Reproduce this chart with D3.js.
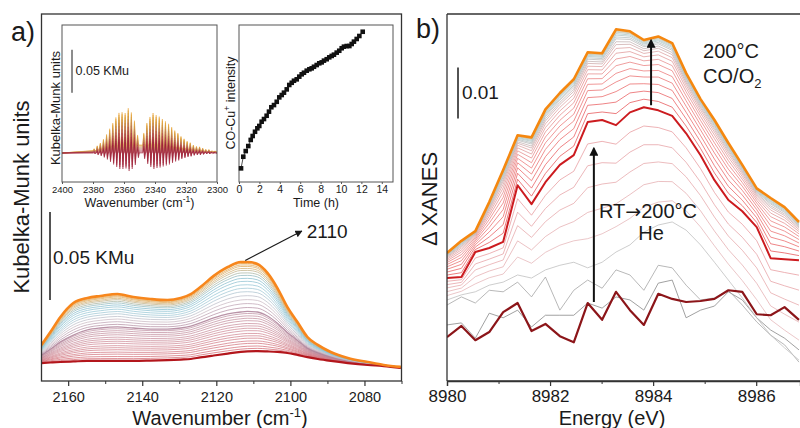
<!DOCTYPE html>
<html><head><meta charset="utf-8">
<script src="https://cdn.jsdelivr.net/npm/d3@7/dist/d3.min.js"></script>
<style>
body{margin:0;background:#fff}
svg text{font-family:"Liberation Sans",Arial,Helvetica,sans-serif;fill:#1a1a1a}
</style>
</head><body>
<svg id="c" width="800" height="428"></svg>
<script>
// ================= DATA =================
// Panel a: DRIFTS spectra (values in 1e-3 KMu)
const irWn = [2167.2,2164.8,2162.1,2158.6,2154.8,2151.3,2146.7,2142.4,2137.8,2133.2,2129.6,2126.9,2124.3,2120.7,2116.9,2113.4,2111.6,2108.9,2106.2,2103.5,2100.8,2098.1,2095.4,2092.6,2089.1,2084.5,2079.1,2074.8,2070.2];
const irTop    = [20.5,27.8,36.4,44.3,47.2,48.3,49.4,47.7,46.6,46.0,47.2,49.4,53.4,59.7,64.8,67.6,67.6,66.5,61.4,52.8,42.0,33.5,25.0,20.5,16.5,13.1,10.8,9.1,8.0];
const irMid    = [14.8,18.2,22.2,26.1,29.0,30.1,30.7,30.1,29.5,29.5,30.1,31.2,33.0,35.8,38.1,39.2,39.5,39.2,36.9,32.8,27.6,23.2,18.7,16.1,13.7,11.5,9.9,8.8,7.7];
const irBottom = [10.2,10.5,10.8,11.1,11.4,11.4,11.4,11.4,11.6,11.9,12.2,12.5,13.4,14.5,15.6,16.5,16.8,17.0,16.8,16.5,15.9,14.8,13.6,12.5,11.4,10.2,9.1,8.5,7.4];
// relative positions of the intermediate spectra
const irLowerLevels = [0.07,0.13,0.2,0.26,0.33,0.39,0.45,0.52,0.58,0.64,0.7,0.77,0.83,0.89,0.95];
const irUpperLevels = [0.0,0.08,0.16,0.24,0.32,0.4,0.47,0.54,0.61,0.67,0.73,0.78,0.83,0.87,0.91,0.94,0.97];
const irTicks = [2160,2140,2120,2100,2080];
const irMinorTicks = [2150,2130,2110,2090,2070];

// Inset 1: gas-phase CO2 lines (line positions, cm-1; heights 1e-3 KMu)
const co2RLines = [2379,2377,2375,2373,2371,2369,2367,2365,2363,2361,2359,2357,2355,2353,2351];
const co2RHeights = [2.3,4.7,7,10.5,15.1,20.9,26.7,32.6,37.2,37.2,36,41.9,37.2,27.9,11.6];
const co2PLines = [2347,2345,2343,2341,2339,2337,2335,2333,2331,2329,2327,2325,2323,2321,2319,2317,2315,2313,2311,2309,2307,2305,2303,2301];
const co2PHeights = [14,25.6,32.6,37.2,34.9,33.7,31.4,29.1,26.7,23.3,19.8,17.4,14,11.6,9.3,8.1,5.8,4.7,4.7,3.5,2.3,2.3,1.2,1.2];
const co2BroadWn = [2400,2380,2370,2360,2350,2340,2330,2320,2310,2300];
const co2Broad = [0,2.3,7,10.5,9.3,9.3,7,4.7,2.3,1.2];
const co2Stages = [1,0.93,0.85,0.76,0.66,0.55,0.42,0.3,0.17,0.08,0];
const inset1Ticks = [2400,2380,2360,2340,2320,2300];

// Inset 2: CO-Cu+ intensity vs time
const timeH = [0.2,0.42,0.66,0.91,1.15,1.34,1.57,1.8,1.99,2.22,2.45,2.71,2.94,3.17,3.43,3.7,3.95,4.19,4.41,4.68,4.93,5.17,5.39,5.66,5.91,6.15,6.37,6.64,6.9,7.13,7.35,7.62,7.87,8.11,8.33,8.6,8.85,9.09,9.31,9.58,9.83,10.07,10.29,10.56,10.82,11.05,11.27,11.54,11.8,12.13];
const coCuInt = [8.7,16.1,19.7,22.9,26.8,29.3,32.0,34.2,35.7,38.4,40.1,42.2,44.8,47.6,49.0,51.1,53.9,55.4,56.9,59.0,61.8,63.2,64.5,65.4,67.1,68.6,69.6,70.9,71.8,72.4,73.4,74.5,75.6,76.2,77.3,78.2,79.4,80.3,81.1,82.4,83.6,85.2,86.2,86.6,86.6,87.9,89.4,91.1,93.0,95.7];
const timeTicks = [0,2,4,6,8,10,12,14];

// Panel b: XANES difference spectra (values in 1e-3)
const energy = [8980.0,8980.28,8980.55,8980.82,8981.09,8981.37,8981.64,8981.91,8982.19,8982.46,8982.73,8983.01,8983.28,8983.55,8983.82,8984.10,8984.37,8984.64,8984.92,8985.19,8985.46,8985.73,8986.01,8986.28,8986.55,8986.83];
const xanesRT    = [8.6,10.8,8.0,9.6,13.5,15.3,9.8,11.2,8.8,7.6,15.3,12.0,17.5,13.9,11.0,17.1,16.1,15.5,15.7,16.1,17.8,17.5,13.1,12.9,14.5,12.0];
const xanesHe1   = [11.0,11.4,8.4,13.3,12.4,13.9,10.6,12.9,12.9,12.9,15.3,14.3,16.5,15.9,13.9,19.2,19.8,12.4,13.9,14.7,17.5,15.9,12.4,10.0,8.4,6.1];
const xanesHe2   = [14.9,16.5,15.3,17.8,17.5,19.4,16.5,20.4,13.9,17.8,19.8,18.2,21.8,20.8,17.8,22.7,22.2,18.8,15.9,16.3,17.8,14.9,11.6,9.0,7.1,3.7];
const xanesHe3   = [15.9,16.9,17.5,18.8,19.4,20.8,20.2,21.8,22.7,23.3,22.2,23.3,25.3,26.7,29.2,30.6,31.2,29.6,26.7,23.3,19.8,16.3,12.4,9.0,6.5,4.1];
const xanes200He = [20.2,20.4,25.3,26.1,27.3,38.4,34.7,39.0,42.4,44.3,50.8,51.2,50.2,52.7,53.7,53.1,52.0,48.6,44.3,39.4,35.5,33.3,30.2,24.1,23.9,23.7];
const xanesCOO2  = [25.1,27.5,29.4,35.1,41.4,48.2,47.8,53.3,56.5,59.2,64.5,64.3,69.0,68.6,66.9,67.6,66.3,60.4,55.3,51.2,46.7,42.4,37.8,35.9,34.1,31.2];
const heLevels = [0.2,0.38,0.55,0.7,0.85];
const coLevels = [0.12,0.24,0.35,0.45,0.54,0.62,0.69,0.75,0.8,0.84,0.87,0.9,0.92,0.94,0.955,0.97,0.98,0.99];
const energyTicks = [8980,8982,8984,8986];
const energyMinor = [8981,8983,8985,8987];

// ================= DRAW =================
const svg = d3.select('#c');
const defs = svg.append('defs');
const AX = '#333';

function mix(a, b, f){ return a.map((v,i)=> v + f*(b[i]-v)); }

svg.append('text').attr('x',11).attr('y',41).attr('font-size',27).text('a)');
svg.append('text').attr('x',416).attr('y',38).attr('font-size',27).text('b)');

// ---------- Panel a main ----------
const xA = d3.scaleLinear().domain([2167.2,2070]).range([41.5,401.5]);
const yA = d3.scaleLinear().domain([0,208.5]).range([381,14]);
defs.append('clipPath').attr('id','clipA').append('rect')
  .attr('x',xA(2167.2)).attr('y',yA(208.5)).attr('width',xA(2070)-xA(2167.2)).attr('height',yA(0)-yA(208.5));
const gA = svg.append('g').attr('clip-path','url(#clipA)');
const lineA = d3.line().x((d,i)=>xA(irWn[i])).y(d=>yA(d)).curve(d3.curveMonotoneX);

const lowColor = d3.scaleLinear().domain([0,0.5,1]).range(['#d0545e','#cc7f8c','#b7879a']);
irLowerLevels.forEach(f=>{
  gA.append('path').attr('d',lineA(mix(irBottom,irMid,f)))
    .attr('fill','none').attr('stroke',lowColor(f)).attr('stroke-width',0.9).attr('stroke-opacity',0.75);
});
const upColor = d3.scaleLinear().domain([0,0.25,0.5,0.7,0.88,1])
  .range(['#ad8098','#cbbcc6','#9ccbd8','#86bccd','#d9b070','#e99e3c']);
irUpperLevels.forEach(f=>{
  gA.append('path').attr('d',lineA(mix(irMid,irTop,f)))
    .attr('fill','none').attr('stroke',upColor(f)).attr('stroke-width',f===0?1.3:0.9).attr('stroke-opacity',0.85);
});
gA.append('path').attr('d',lineA(irBottom)).attr('fill','none').attr('stroke','#b3161c').attr('stroke-width',2.2);
gA.append('path').attr('d',lineA(irTop)).attr('fill','none').attr('stroke','#f7861c').attr('stroke-width',2.6);

svg.append('rect').attr('x',41.5).attr('y',14).attr('width',360).attr('height',367)
  .attr('fill','none').attr('stroke',AX).attr('stroke-width',1.3);
const axA = svg.append('g').attr('transform','translate(0,381)')
  .call(d3.axisBottom(xA).tickValues(irTicks).tickSize(5).tickPadding(6).tickFormat(d3.format('d')));
axA.select('.domain').remove();
axA.selectAll('line').attr('stroke',AX).attr('stroke-width',1.2);
axA.selectAll('text').attr('font-size',14.5).attr('fill','#1a1a1a');
const axAm = svg.append('g').attr('transform','translate(0,381)')
  .call(d3.axisBottom(xA).tickValues(irMinorTicks).tickSize(3).tickFormat(''));
axAm.select('.domain').remove(); axAm.selectAll('line').attr('stroke',AX);

const tA = svg.append('text').attr('x',220).attr('y',425).attr('text-anchor','middle').attr('font-size',20);
tA.append('tspan').text('Wavenumber (cm');
tA.append('tspan').attr('dy',-8).attr('font-size',13).text('-1');
tA.append('tspan').attr('dy',8).text(')');
svg.append('text').attr('transform','translate(29,197) rotate(-90)').attr('text-anchor','middle').attr('font-size',22).text('Kubelka-Munk units');

// scale bar 0.05 KMu
svg.append('line').attr('x1',50).attr('x2',50).attr('y1',yA(46)).attr('y2',yA(96)).attr('stroke','#1a1a1a').attr('stroke-width',1.5);
svg.append('text').attr('x',53).attr('y',yA(66.5)).attr('font-size',19).text('0.05 KMu');
// 2110 annotation
defs.append('marker').attr('id','ah').attr('viewBox','0 0 10 10').attr('refX',9).attr('refY',5)
  .attr('markerWidth',6).attr('markerHeight',6).attr('orient','auto')
  .append('path').attr('d','M0,0 L10,5 L0,10 z').attr('fill','#1a1a1a');
svg.append('line').attr('x1',xA(2112.2)).attr('y1',yA(68.5)).attr('x2',xA(2096.9)).attr('y2',yA(85.2))
  .attr('stroke','#1a1a1a').attr('stroke-width',1.2).attr('marker-end','url(#ah)');
svg.append('text').attr('x',xA(2095.6)).attr('y',yA(81.2)).attr('font-size',19).text('2110');

// ---------- Inset 1 ----------
const x1 = d3.scaleLinear().domain([2400,2300]).range([62,217]);
const y1 = d3.scaleLinear().domain([-33.7,148.8]).range([182,25]);
defs.append('clipPath').attr('id','clip1').append('rect').attr('x',62).attr('y',25).attr('width',155).attr('height',157);
svg.append('rect').attr('x',62).attr('y',25).attr('width',155).attr('height',157).attr('fill','#fff');
const g1 = svg.append('g').attr('clip-path','url(#clip1)');
const broadAt = d3.scaleLinear().domain(co2BroadWn).range(co2Broad);
const co2Lines = co2RLines.map((p,i)=>({p,h:co2RHeights[i]})).concat(co2PLines.map((p,i)=>({p,h:co2PHeights[i]})));
function co2Curve(t){
  const pts=[[2400,0]];
  co2Lines.forEach(({p,h})=>{
    const b=t*broadAt(p);
    pts.push([p+0.8,b],[p+0.25,b+h*(0.35+0.65*t)],[p-0.3,b-h*0.5*(1-t)],[p-0.8,b]);
  });
  pts.push([2300,t*broadAt(2300)]);
  return pts;
}
const line1 = d3.line().x(d=>x1(d[0])).y(d=>y1(d[1]));
const co2Color = d3.scaleLinear().domain([0,0.35,0.6,0.85,1]).range(['#9e1f35','#b0404f','#bb7a5a','#d6a040','#e9a02c']);
co2Stages.forEach(t=>{
  g1.append('path').attr('d',line1(co2Curve(t))).attr('fill','none')
    .attr('stroke',co2Color(t)).attr('stroke-width',0.7).attr('stroke-opacity',0.7);
});
svg.append('rect').attr('x',62).attr('y',25).attr('width',155).attr('height',157).attr('fill','none').attr('stroke','#555').attr('stroke-width',1);
const ax1 = svg.append('g').attr('transform','translate(0,182)')
  .call(d3.axisBottom(x1).tickValues(inset1Ticks).tickSize(2).tickPadding(2).tickFormat(d3.format('d')));
ax1.select('.domain').remove(); ax1.selectAll('line').attr('stroke','#555');
ax1.selectAll('text').attr('font-size',9.5).attr('fill','#1a1a1a');
const t1 = svg.append('text').attr('x',139.5).attr('y',207).attr('text-anchor','middle').attr('font-size',12.5);
t1.append('tspan').text('Wavenumber (cm');
t1.append('tspan').attr('dy',-5).attr('font-size',8.5).text('-1');
t1.append('tspan').attr('dy',5).text(')');
svg.append('text').attr('transform','translate(60,108) rotate(-90)').attr('text-anchor','middle').attr('font-size',13).text('Kubelka-Munk units');
svg.append('line').attr('x1',72).attr('x2',72).attr('y1',y1(70)).attr('y2',y1(120)).attr('stroke','#1a1a1a').attr('stroke-width',1);
svg.append('text').attr('x',75.5).attr('y',y1(90.5)).attr('font-size',12.5).text('0.05 KMu');

// ---------- Inset 2 ----------
const x2 = d3.scaleLinear().domain([0,15.1]).range([239,393]);
const y2 = d3.scaleLinear().domain([0,100]).range([182,25]);
svg.append('rect').attr('x',239).attr('y',25).attr('width',154).attr('height',157).attr('fill','#fff').attr('stroke','#555').attr('stroke-width',1);
const pts2 = timeH.map((t,i)=>[t,coCuInt[i]]);
svg.append('path').attr('d',d3.line().x(d=>x2(d[0])).y(d=>y2(d[1]))(pts2)).attr('fill','none').attr('stroke','#222').attr('stroke-width',0.8);
svg.append('g').selectAll('rect').data(pts2).join('rect')
  .attr('x',d=>x2(d[0])-2.3).attr('y',d=>y2(d[1])-2.3).attr('width',4.6).attr('height',4.6).attr('fill','#111');
const ax2 = svg.append('g').attr('transform','translate(0,182)')
  .call(d3.axisBottom(x2).tickValues(timeTicks).tickSize(2).tickPadding(2).tickFormat(d3.format('d')));
ax2.select('.domain').remove(); ax2.selectAll('line').attr('stroke','#555');
ax2.selectAll('text').attr('font-size',10.5).attr('fill','#1a1a1a');
svg.append('text').attr('x',316).attr('y',207).attr('text-anchor','middle').attr('font-size',12.5).text('Time (h)');
const t2 = svg.append('text').attr('transform','translate(235,103) rotate(-90)').attr('text-anchor','middle').attr('font-size',12.5);
t2.append('tspan').text('CO-Cu');
t2.append('tspan').attr('dy',-5).attr('font-size',8.5).text('+');
t2.append('tspan').attr('dy',5).text(' intensity');

// ---------- Panel b ----------
const xB = d3.scaleLinear().domain([8980,8986.85]).range([447,800]);
const yB = d3.scaleLinear().domain([0,72]).range([381,14]);
defs.append('clipPath').attr('id','clipB').append('rect').attr('x',447).attr('y',14).attr('width',360).attr('height',367);
const gB = svg.append('g').attr('clip-path','url(#clipB)');
const lineB = d3.line().x((d,i)=>xB(energy[i])).y(d=>yB(d)).curve(d3.curveLinear);
function drawB(arr,color,w,op){
  gB.append('path').attr('d',lineB(arr)).attr('fill','none').attr('stroke',color)
    .attr('stroke-width',w).attr('stroke-opacity',op).attr('stroke-linejoin','round');
}
drawB(xanesHe1,'#8a8a8a',1,0.8);
drawB(xanesHe2,'#a0a0a0',1,0.75);
drawB(xanesHe3,'#c0c0c0',1,0.8);
const heColor = d3.scaleLinear().domain([0,1]).range(['#e2b8bb','#e58a8e']);
heLevels.forEach(f=> drawB(mix(xanesHe3,xanes200He,f),heColor(f),1,0.7));
const coColor = d3.scaleLinear().domain([0,0.6,0.8,0.9,0.96,1]).range(['#e5474a','#ec7a7a','#dca0a0','#b8b8b8','#a9c6c6','#e3b47a']);
coLevels.forEach(f=> drawB(mix(xanes200He,xanesCOO2,f),coColor(f),1,0.75));
drawB(xanes200He,'#cc1b1f',2,1);
drawB(xanesRT,'#8c1519',2.2,1);
drawB(xanesCOO2,'#f5870f',2.6,1);

svg.append('line').attr('x1',447).attr('x2',447).attr('y1',14).attr('y2',381).attr('stroke',AX).attr('stroke-width',1.3);
svg.append('line').attr('x1',447).attr('x2',800).attr('y1',14).attr('y2',14).attr('stroke',AX).attr('stroke-width',1.3);
const axB = svg.append('g').attr('transform','translate(0,381)')
  .call(d3.axisBottom(xB).tickValues(energyTicks).tickSize(5).tickPadding(4).tickFormat(d3.format('d')));
axB.select('.domain').attr('stroke',AX).attr('stroke-width',1.3);
axB.selectAll('line').attr('stroke',AX).attr('stroke-width',1.2);
axB.selectAll('text').attr('font-size',17).attr('fill','#1a1a1a');
const axBm = svg.append('g').attr('transform','translate(0,381)')
  .call(d3.axisBottom(xB).tickValues(energyMinor).tickSize(3).tickFormat(''));
axBm.select('.domain').remove(); axBm.selectAll('line').attr('stroke',AX);
svg.append('line').attr('x1',447).attr('x2',800).attr('y1',381).attr('y2',381).attr('stroke',AX).attr('stroke-width',1.3);

svg.append('text').attr('x',612).attr('y',425).attr('text-anchor','middle').attr('font-size',20).text('Energy (eV)');
svg.append('text').attr('transform','translate(437,199) rotate(-90)').attr('text-anchor','middle').attr('font-size',22).text('Δ XANES');

// scale bar 0.01
svg.append('line').attr('x1',458).attr('x2',458).attr('y1',yB(51.5)).attr('y2',yB(61.5)).attr('stroke','#1a1a1a').attr('stroke-width',1.5);
svg.append('text').attr('x',xB(8980.29)).attr('y',yB(55.3)).attr('font-size',19).text('0.01');

// arrows
defs.append('marker').attr('id','ah2').attr('viewBox','0 0 10 10').attr('refX',8).attr('refY',5)
  .attr('markerWidth',4.5).attr('markerHeight',4.5).attr('orient','auto')
  .append('path').attr('d','M0,0 L10,5 L0,10 z').attr('fill','#111');
svg.append('line').attr('x1',xB(8983.96)).attr('x2',xB(8983.96)).attr('y1',yB(54.1)).attr('y2',yB(66.8))
  .attr('stroke','#111').attr('stroke-width',2).attr('marker-end','url(#ah2)');
svg.append('line').attr('x1',xB(8982.85)).attr('x2',xB(8982.85)).attr('y1',yB(15.5)).attr('y2',yB(45.6))
  .attr('stroke','#111').attr('stroke-width',2).attr('marker-end','url(#ah2)');

svg.append('text').attr('x',xB(8984.97)).attr('y',yB(63.3)).attr('font-size',20).text('200°C');
const co = svg.append('text').attr('x',xB(8984.97)).attr('y',yB(58.5)).attr('font-size',20);
co.append('tspan').text('CO/O');
co.append('tspan').attr('dy',5).attr('font-size',13).text('2');
const rt = svg.append('text').attr('x',xB(8982.95)).attr('y',yB(32.0)).attr('font-size',20);
rt.append('tspan').text('RT');
rt.append('tspan').style('font-family','"DejaVu Sans"').attr('font-size',19).text('→');
rt.append('tspan').text('200°C');
svg.append('text').attr('x',xB(8983.96)).attr('y',yB(27.6)).attr('text-anchor','middle').attr('font-size',20).text('He');
</script>
</body></html>
